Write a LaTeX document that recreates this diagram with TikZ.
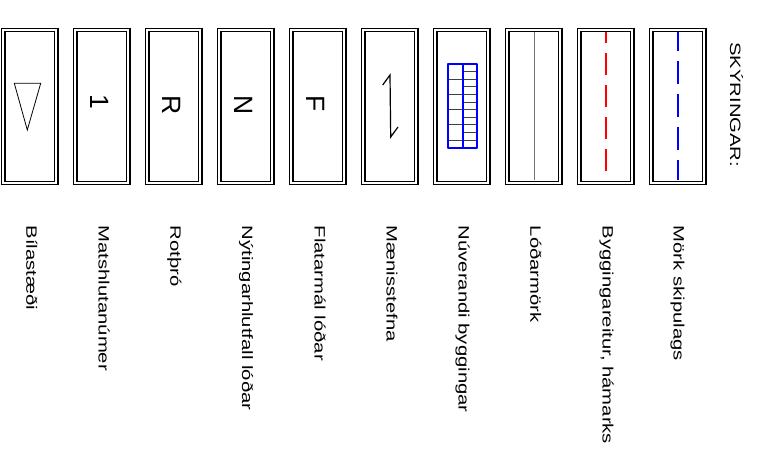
\documentclass[tikz,border=0pt]{standalone}
\usepackage{fontspec}
\setmainfont{Liberation Sans}
\usepackage{tikz}

\begin{document}
\begin{tikzpicture}[x=1pt,y=-1pt,
        box/.style={shape=rectangle,draw=black,double,line width=1.1pt,double distance=2.4pt,minimum width=53pt,minimum height=153pt,inner sep=0pt},
        sym/.style={rotate=-90,anchor=base west,inner sep=0pt,font=\fontsize{26.5}{30}\selectfont},
        lbl/.style={rotate=-90,xscale=1.35,anchor=base west,inner sep=0pt,font=\fontsize{15}{18}\selectfont},
        hatch/.style={draw=black!75,line width=0.8pt}]
        \useasboundingbox (0,0) rectangle (763,449);

        \node[box] (bil)  at (29.75,106.5)  {};
        \node[box] (mats) at (101.75,106.5) {};
        \node[box] (rot)  at (173.75,106.5) {};
        \node[box] (nyt)  at (245.75,106.5) {};
        \node[box] (flat) at (317.75,106.5) {};
        \node[box] (maen) at (389.75,106.5) {};
        \node[box] (nuv)  at (461.75,106.5) {};
        \node[box] (lod)  at (533.75,106.5) {};
        \node[box] (byg)  at (605.75,106.5) {};
        \node[box] (mork) at (677.75,106.5) {};

        \node[lbl] (title) at (730,42) {SKÝRINGAR:};

        % symbols
        \draw[line width=0.8pt] (14.3,83.3) -- (40.7,83.3) -- (27.3,130) -- cycle;
        \node[sym] (s1) at (90.8,94)  {1};
        \node[sym] (sR) at (162.8,95) {R};
        \node[sym] (sN) at (234.8,95) {N};
        \node[sym] (sF) at (306.8,95) {F};
        \draw[line width=1.2pt] (382.7,85) -- (390,75) -- (390.7,137) -- (398,127);

        \draw[hatch] (448,79.3) -- (462.7,79.3) (448,94.7) -- (462.7,94.7) (448,109.3) -- (462.7,109.3)
                     (448,124.3) -- (462.7,124.3) (448,140) -- (462.7,140);
        \draw[hatch] (462.7,71.7) -- (477.3,71.7) (462.7,79.3) -- (477.3,79.3) (462.7,86.7) -- (477.3,86.7)
                     (462.7,94.7) -- (477.3,94.7) (462.7,102) -- (477.3,102) (462.7,109.3) -- (477.3,109.3)
                     (462.7,117) -- (477.3,117) (462.7,124.3) -- (477.3,124.3) (462.7,132.3) -- (477.3,132.3)
                     (462.7,140) -- (477.3,140);
        \draw[blue,line width=1.7pt,line join=round] (448,64) rectangle (477.3,147.7);
        \draw[blue,line width=1.7pt] (462.7,64) -- (462.7,147.7);

        \draw[black!55,line width=1pt] (534.3,32.5) -- (534.3,180.5);
        \draw[red,line width=1.8pt,dash pattern=on 22pt off 10pt,dash phase=11pt] (606,32.5) -- (606,180.5);
        \draw[blue,line width=1.8pt,dash pattern=on 23pt off 10pt,dash phase=4pt] (677.7,32.5) -- (677.7,180.5);

        % labels
        \node[lbl] (tbil)  at (26.5,225.5)  {Bílastæði};
        \node[lbl] (tmats) at (98.5,225.5)  {Matshlutanúmer};
        \node[lbl] (trot)  at (170.3,225.5) {Rotþró};
        \node[lbl] (tnyt)  at (242,225.5)   {Nýtingarhlutfall lóðar};
        \node[lbl] (tflat) at (314.5,225.5) {Flatarmál lóðar};
        \node[lbl] (tmaen) at (386.5,225.5) {Mænisstefna};
        \node[lbl] (tnuv)  at (458.7,225.5) {Núverandi byggingar};
        \node[lbl] (tlod)  at (530.3,225.5) {Lóðarmörk};
        \node[lbl] (tbyg)  at (602.5,225.5) {Byggingareitur, hámarks};
        \node[lbl] (tmork) at (673.5,225.5) {Mörk skipulags};
\end{tikzpicture}
\end{document}
